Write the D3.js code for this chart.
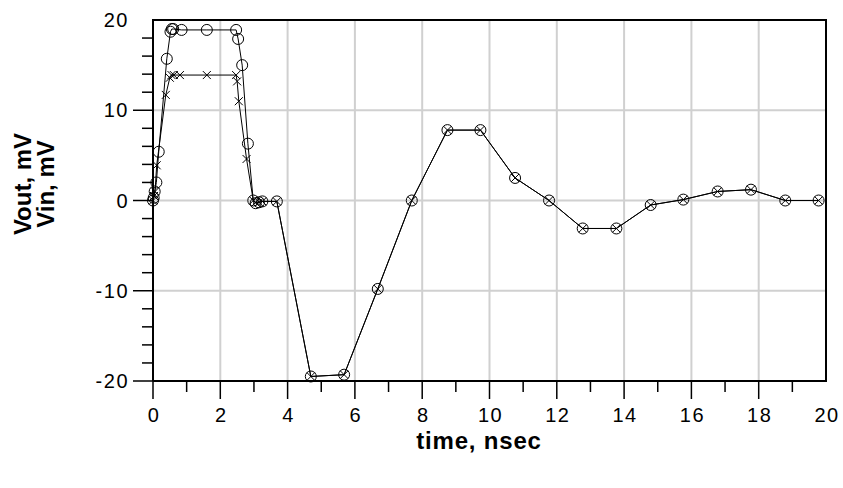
<!DOCTYPE html>
<html><head><meta charset="utf-8">
<script src="https://cdn.jsdelivr.net/npm/d3@7"></script>
<style>
html,body{margin:0;padding:0;background:#fff;}
svg{display:block;}
text{font-family:"Liberation Sans",Arial,sans-serif;fill:#000;}
</style></head>
<body>
<svg id="chart" width="843" height="488"></svg>
<script>
// Vout (circle markers)
const voutTime = [0,0.02,0.05,0.1,0.17,0.41,0.52,0.56,0.6,0.85,1.6,2.47,2.53,2.65,2.82,2.98,3.05,3.15,3.25,3.68,4.69,5.68,6.68,7.69,8.75,9.73,10.76,11.77,12.77,13.77,14.79,15.76,16.78,17.77,18.79,19.78];
const voutValues = [0,0.3,1.0,2.0,5.4,15.7,18.7,19.0,19.0,18.9,18.9,18.9,17.9,15.0,6.3,0.0,-0.3,-0.2,-0.1,-0.1,-19.5,-19.3,-9.8,0.0,7.8,7.8,2.5,0.0,-3.1,-3.1,-0.5,0.1,1.0,1.2,0.0,0.0];
// Vin (x markers)
const vinTime = [0,0.03,0.06,0.11,0.38,0.5,0.55,0.62,0.8,1.6,2.47,2.5,2.55,2.78,2.98,3.05,3.15,3.25,3.68,4.69,5.68,6.68,7.69,8.75,9.73,10.76,11.77,12.77,13.77,14.79,15.76,16.78,17.77,18.79,19.78];
const vinValues = [0,0.5,1.0,3.9,11.7,13.6,13.9,13.9,13.9,13.9,13.9,13.2,11.0,4.6,0.0,-0.2,-0.2,-0.1,-0.1,-19.5,-19.3,-9.8,0.0,7.8,7.8,2.5,0.0,-3.1,-3.1,-0.5,0.1,1.0,1.2,0.0,0.0];
const xTickLabels = [0,2,4,6,8,10,12,14,16,18,20];
const yTickLabels = [-20,-10,0,10,20];
const xLabel = "time, nsec";
const yLabels = ["Vout, mV","Vin, mV"];

const svg = d3.select("#chart");
const L = 153, R = 826, T = 20, B = 381;
const x = d3.scaleLinear().domain([0,20]).range([L,R]);
const y = d3.scaleLinear().domain([-20,20]).range([B,T]);

// grid
const g = svg.append("g");
g.selectAll("line.vg").data(d3.range(2,20,2)).join("line")
  .attr("x1",d=>x(d)).attr("x2",d=>x(d)).attr("y1",T).attr("y2",B)
  .attr("stroke","#d0d0d0").attr("stroke-width",2);
g.selectAll("line.hg").data([-10,0,10]).join("line")
  .attr("x1",L).attr("x2",R).attr("y1",d=>y(d)).attr("y2",d=>y(d))
  .attr("stroke","#d0d0d0").attr("stroke-width",2);

// frame
svg.append("path").attr("d",`M${L},${B}V${T}H${R}V${B}H${L}`)
  .attr("fill","none").attr("stroke","#000").attr("stroke-width",2);

// x axis ticks
svg.append("g").selectAll("line").data(d3.range(0,20,1)).join("line")
  .attr("x1",d=>x(d)).attr("x2",d=>x(d)).attr("y1",B)
  .attr("y2",d=>B+(d%2===0?18:11)).attr("stroke","#000").attr("stroke-width",1.5);
svg.append("g").selectAll("text").data(xTickLabels).join("text")
  .attr("x",d=>x(d)+1).attr("y",422).attr("text-anchor","middle")
  .attr("font-size",20).attr("letter-spacing",1.5).text(d=>d);

// y axis ticks
svg.append("g").selectAll("line").data(d3.range(-20,20,2)).join("line")
  .attr("y1",d=>y(d)).attr("y2",d=>y(d)).attr("x2",L)
  .attr("x1",d=>L-(d%10===0?20:11)).attr("stroke","#000").attr("stroke-width",1.5);
svg.append("g").selectAll("text").data(yTickLabels).join("text")
  .attr("x",129).attr("y",d=>y(d)+7).attr("text-anchor","end")
  .attr("font-size",20).attr("letter-spacing",1.5).text(d=>d);

// axis titles
svg.append("text").attr("x",479).attr("y",449).attr("text-anchor","middle")
  .attr("font-size",24).attr("font-weight","bold").attr("letter-spacing",0.8).text(xLabel);
svg.append("g").selectAll("text").data(yLabels).join("text")
  .attr("transform",(d,i)=>`translate(${31+i*23},184) rotate(-90)`)
  .attr("text-anchor","middle").attr("font-size",24).attr("font-weight","bold").text(d=>d);

// series
const line = d3.line().x(d=>x(d[0])).y(d=>y(d[1]));
const vout = voutTime.map((t,i)=>[t,voutValues[i]]);
const vin = vinTime.map((t,i)=>[t,vinValues[i]]);
const plot = svg.append("g");
plot.append("path").datum(vin).attr("d",line).attr("fill","none").attr("stroke","#000").attr("stroke-width",1);
plot.append("path").datum(vout).attr("d",line).attr("fill","none").attr("stroke","#000").attr("stroke-width",1);
plot.selectAll("circle").data(vout).join("circle")
  .attr("cx",d=>x(d[0])).attr("cy",d=>y(d[1])).attr("r",5.5)
  .attr("fill","none").attr("stroke","#000").attr("stroke-width",1);
const s = 4;
plot.selectAll("path.xm").data(vin).join("path").attr("class","xm")
  .attr("d",d=>{const cx=x(d[0]),cy=y(d[1]);return `M${cx-s},${cy-s}L${cx+s},${cy+s}M${cx-s},${cy+s}L${cx+s},${cy-s}`;})
  .attr("fill","none").attr("stroke","#000").attr("stroke-width",1);
</script>
</body></html>
